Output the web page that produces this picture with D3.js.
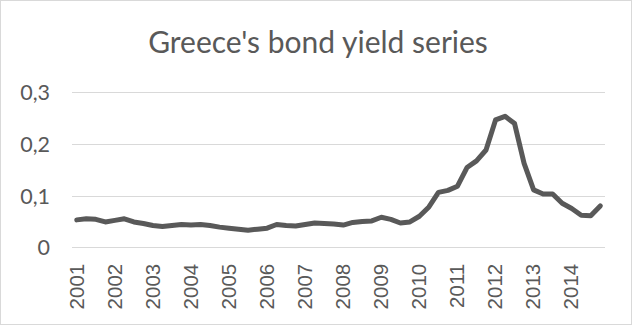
<!DOCTYPE html>
<html>
<head>
<meta charset="utf-8">
<script src="https://cdn.jsdelivr.net/npm/d3@7"></script>
<style>
  html, body { margin: 0; padding: 0; background: #fff; }
  svg { display: block; }
</style>
</head>
<body>
<svg id="chart" width="634" height="326"></svg>
<script>
// Quarterly 10-year government bond yields, Greece, 2001–2014
const years = [2001, 2002, 2003, 2004, 2005, 2006, 2007, 2008, 2009, 2010, 2011, 2012, 2013, 2014];
const quarters = ["Q1", "Q2", "Q3", "Q4"];
const yields = [
  0.053, 0.055, 0.054, 0.049,   // 2001
  0.052, 0.055, 0.049, 0.046,   // 2002
  0.042, 0.040, 0.042, 0.044,   // 2003
  0.043, 0.044, 0.042, 0.039,   // 2004
  0.037, 0.035, 0.033, 0.035,   // 2005
  0.037, 0.044, 0.042, 0.041,   // 2006
  0.044, 0.047, 0.046, 0.045,   // 2007
  0.043, 0.048, 0.050, 0.051,   // 2008
  0.058, 0.054, 0.047, 0.049,   // 2009
  0.060, 0.078, 0.106, 0.110,   // 2010
  0.118, 0.154, 0.167, 0.188,   // 2011
  0.246, 0.253, 0.239, 0.162,   // 2012
  0.111, 0.103, 0.103, 0.085,   // 2013
  0.075, 0.062, 0.061, 0.080    // 2014
];
const yTicks = [0, 0.1, 0.2, 0.3];
const title = "Greece's bond yield series";

const categories = years.flatMap(y => quarters.map(q => y + q));
const data = categories.map((c, i) => ({ cat: c, value: yields[i] }));

const W = 634, H = 326;
const margin = { left: 72, right: 29, top: 92, bottom: 78.7 };
const svg = d3.select("#chart");

// chart frame
svg.append("rect")
  .attr("x", 0.5).attr("y", 0.5)
  .attr("width", W - 3).attr("height", H - 2)
  .attr("fill", "#fff")
  .attr("stroke", "#d9d9d9");

const x = d3.scaleBand()
  .domain(categories)
  .range([margin.left, W - margin.right]);

const y = d3.scaleLinear()
  .domain([0, 0.3])
  .range([H - margin.bottom, margin.top]);

// horizontal gridlines
svg.append("g")
  .selectAll("line")
  .data(yTicks)
  .join("line")
  .attr("x1", margin.left).attr("x2", W - margin.right)
  .attr("y1", d => Math.round(y(d)) + 0.5).attr("y2", d => Math.round(y(d)) + 0.5)
  .attr("stroke", "#d9d9d9").attr("stroke-width", 1);

// y-axis labels with comma decimals
const fmt = d => d === 0 ? "0" : d3.format(".1f")(d).replace(".", ",");
const yAxis = d3.axisLeft(y).tickValues(yTicks).tickFormat(fmt).tickSize(0).tickPadding(0);
svg.append("g")
  .attr("transform", `translate(${margin.left - 22},0)`)
  .call(yAxis)
  .call(g => g.select(".domain").remove())
  .call(g => g.selectAll("text")
    .attr("fill", "#595959")
    .attr("font-family", "Lato, 'Open Sans', sans-serif")
    .attr("font-size", 21.5)
    .attr("dy", "0.35em"));

// x-axis: one label per year at its first quarter
const xAxis = d3.axisBottom(x)
  .tickValues(categories.filter(c => c.endsWith("Q1")))
  .tickFormat(c => c.slice(0, 4))
  .tickSize(0).tickPadding(0);
svg.append("g")
  .attr("transform", `translate(0,${H - margin.bottom + 16.5})`)
  .call(xAxis)
  .call(g => g.select(".domain").remove())
  .call(g => g.selectAll("text")
    .attr("fill", "#595959")
    .attr("font-family", "'Liberation Sans', Arial, sans-serif")
    .attr("font-size", 20.5)
    .attr("transform", "rotate(-90)")
    .attr("text-anchor", "end")
    .attr("x", 0).attr("y", 0)
    .attr("dx", 0).attr("dy", "0.33em"));

// yield line
const line = d3.line()
  .x(d => x(d.cat) + x.bandwidth() / 2)
  .y(d => y(d.value));

svg.append("path")
  .datum(data)
  .attr("d", line)
  .attr("fill", "none")
  .attr("stroke", "#595959")
  .attr("stroke-width", 5)
  .attr("stroke-linejoin", "round")
  .attr("stroke-linecap", "round");

// title
svg.append("text")
  .attr("x", 318).attr("y", 53)
  .attr("text-anchor", "middle")
  .attr("fill", "#595959")
  .attr("font-family", "Lato, 'Open Sans', sans-serif")
  .attr("font-size", 30)
  .text(title);
</script>
</body>
</html>
